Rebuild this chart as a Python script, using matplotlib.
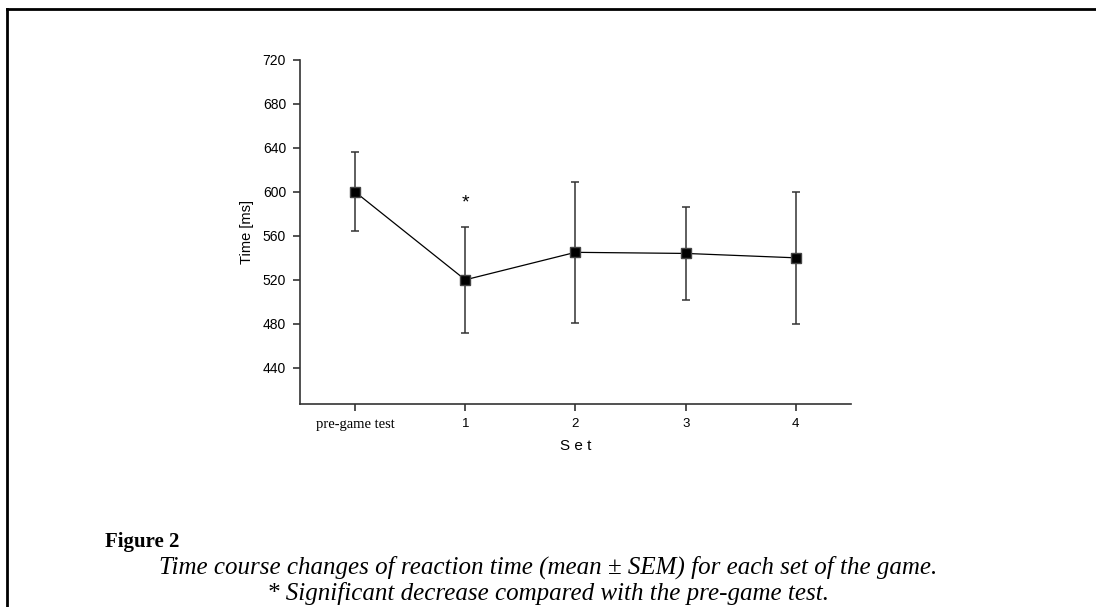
import matplotlib.pyplot as plt
from matplotlib.lines import Line2D

# values
sets = ['pre-game test', '1', '2', '3', '4']
mean_rt = [600, 520, 545, 544, 540]
sem_rt = [36, 48, 64, 42, 60]
y_ticks = [440, 480, 520, 560, 600, 640, 680, 720]


def plot_data():
    fig = plt.figure(figsize=(10.96, 6.07), dpi=100)
    ax = fig.add_axes([0.2737, 0.3344, 0.5027, 0.5668])

    x = list(range(len(sets)))
    ax.errorbar(x, mean_rt, yerr=sem_rt, fmt='none', ecolor='#333333',
                elinewidth=1.1, capsize=3, capthick=1.1)
    ax.plot(x, mean_rt, color='black', linewidth=0.9, marker='s',
            markersize=6.5, markerfacecolor='black', markeredgecolor='#444444',
            zorder=3)

    # significance mark above set 1
    ax.text(1, 590, '*', ha='center', va='center',
            fontsize=14, family='Liberation Sans')

    ax.set_xlim(-0.5, 4.5)
    ax.set_ylim(407, 720)
    ax.set_yticks(y_ticks)
    ax.set_xticks(x)
    ax.set_xticklabels(sets)
    for lab in ax.get_xticklabels():
        if lab.get_text() == 'pre-game test':
            lab.set_family('Liberation Serif')
            lab.set_fontsize(10.5)
        else:
            lab.set_family('Liberation Sans')
            lab.set_fontsize(9.5)
    for lab in ax.get_yticklabels():
        lab.set_family('Liberation Sans')
        lab.set_fontsize(10)

    ax.spines['top'].set_visible(False)
    ax.spines['right'].set_visible(False)
    for s in ['left', 'bottom']:
        ax.spines[s].set_linewidth(1.2)
        ax.spines[s].set_color('#333333')
    ax.tick_params(axis='both', direction='out', length=5, width=1.1,
                   color='#222222', pad=5)

    ax.set_xlabel('S e t', family='Liberation Sans', fontsize=11, labelpad=6)
    ax.set_ylabel('Time [ms]', family='Liberation Sans', fontsize=10.5,
                  labelpad=6)

    # frame lines on left and top
    fig.add_artist(Line2D([0.006, 0.006], [0, 0.985], transform=fig.transFigure,
                          color='black', linewidth=2))
    fig.add_artist(Line2D([0.006, 1.0], [0.985, 0.985], transform=fig.transFigure,
                          color='black', linewidth=2))

    # caption
    fig.text(0.096, 0.099, 'Figure 2', family='Liberation Serif',
             fontweight='bold', fontsize=15, ha='left', va='baseline')
    fig.text(0.5, 0.055, 'Time course changes of reaction time (mean \u00b1 SEM) '
             'for each set of the game.', family='Liberation Serif',
             style='italic', fontsize=18, ha='center', va='baseline')
    fig.text(0.5, 0.012, '* Significant decrease compared with the pre-game test.',
             family='Liberation Serif', style='italic', fontsize=18,
             ha='center', va='baseline')

    fig.savefig('out.png', dpi=100)


plot_data()
